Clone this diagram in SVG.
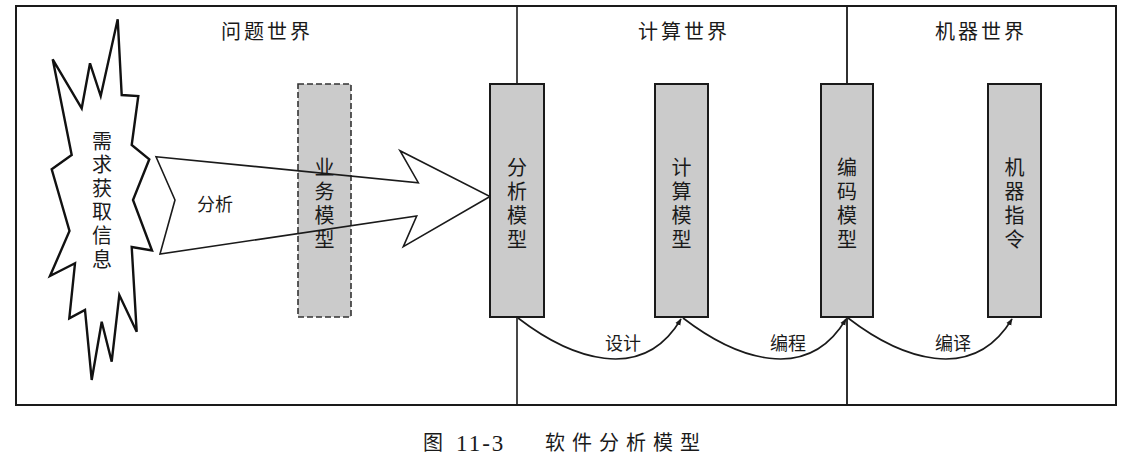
<svg xmlns="http://www.w3.org/2000/svg" width="1122" height="471" viewBox="0 0 1122 471">
<defs>
<marker id="ah" viewBox="0 0 10 10" refX="9" refY="5" markerWidth="7" markerHeight="7" orient="auto" markerUnits="userSpaceOnUse">
<path d="M0,1 L10,5 L0,9 z" fill="#1a1a1a"/>
</marker>
</defs>
<style>
text{font-family:"Noto Sans CJK SC","Noto Sans",sans-serif;fill:#1a1a1a}
.t{font-size:20px;text-anchor:middle;letter-spacing:3px}
.v{font-size:20px;writing-mode:vertical-rl;letter-spacing:4px}
.lbl{font-size:18px;text-anchor:middle}
.box{fill:#cbcbcb;stroke:#1a1a1a;stroke-width:2}
.dbox{fill:#cbcbcb;stroke:#333;stroke-width:1.6;stroke-dasharray:6,3}
.ln{fill:none;stroke:#1a1a1a;stroke-width:1.6}
</style>
<rect width="1122" height="471" fill="#ffffff"/>
<g id="frame">
<rect x="16" y="6" width="1100" height="399" fill="none" stroke="#1a1a1a" stroke-width="2"/>
<line x1="517" y1="6" x2="517" y2="405" stroke="#1a1a1a" stroke-width="1.6"/>
<line x1="847" y1="6" x2="847" y2="405" stroke="#1a1a1a" stroke-width="1.8"/>
<text class="t" x="267" y="39">问题世界</text>
<text class="t" x="684" y="39">计算世界</text>
<text class="t" x="981" y="39">机器世界</text>
</g>
<g id="need">
<polygon points="117.7,19.3 121.7,95 138.3,96 131.7,145 149.3,159.3 133,200 152,250.5 131.7,247 136.7,331.7 119.3,295 111.7,361.7 101.7,321.7 91.7,380 85,310 69.3,318.3 75,263.3 50,276 69.5,231 51.7,169.3 71.7,155 52.7,59.3 81.7,108.3 90,63.3 100.7,96" fill="#ffffff" stroke="#111" stroke-width="2.4" stroke-linejoin="miter"/>
<text class="v" x="102" y="131" style="letter-spacing:3.6px">需求获取信息</text>
</g>
<g id="biz">
<rect class="dbox" x="298" y="84" width="53" height="233"/>
<text class="v" x="324.5" y="157">业务模型</text>
</g>
<g id="analysis-arrow">
<polygon points="156,156.7 418.3,182.7 400,150.7 490,196.5 403.3,246.7 416.7,216 160,254 175,200" fill="none" stroke="#1a1a1a" stroke-width="1.6" stroke-linejoin="miter"/>
<text class="lbl" x="215" y="211">分析</text>
</g>
<g id="m1">
<rect class="box" x="490" y="84" width="54" height="233"/>
<text class="v" x="517" y="157">分析模型</text>
</g>
<g id="m2">
<rect class="box" x="655" y="84" width="53" height="233"/>
<text class="v" x="681.5" y="157">计算模型</text>
</g>
<g id="m3">
<rect class="box" x="821" y="84" width="52" height="233"/>
<text class="v" x="847" y="157">编码模型</text>
</g>
<g id="m4">
<rect class="box" x="988" y="84" width="53" height="233"/>
<text class="v" x="1014.5" y="157">机器指令</text>
</g>
<g id="connectors">
<path class="ln" d="M518,318 C570,358 642,385 681,319" marker-end="url(#ah)"/>
<path class="ln" d="M683,318 C735,358 807,385 846,319" marker-end="url(#ah)"/>
<path class="ln" d="M848,318 C900,358 972,385 1012,319" marker-end="url(#ah)"/>
<text class="lbl" x="623" y="350">设计</text>
<text class="lbl" x="788" y="350">编程</text>
<text class="lbl" x="953" y="350">编译</text>
</g>
<g id="caption">
<text style="font-size:20px" x="423" y="450">图</text>
<text style="font-family:'Liberation Serif',serif;font-size:23px;letter-spacing:2px" x="456" y="451">11-3</text>
<text style="font-size:20px;letter-spacing:7px" x="545" y="450">软件分析模型</text>
</g>
</svg>
